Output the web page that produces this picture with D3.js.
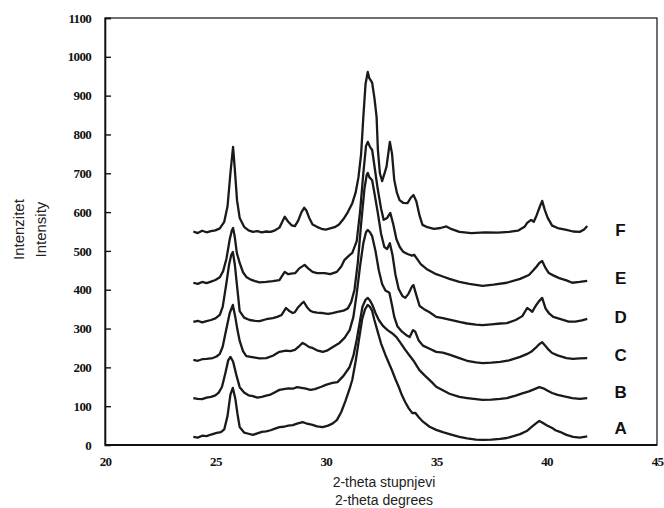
<!DOCTYPE html>
<html>
<head>
<meta charset="utf-8">
<script src="https://cdn.jsdelivr.net/npm/d3@7"></script>
<style>
  body { margin: 0; background: #fff; }
  svg { display: block; }
</style>
</head>
<body>
<svg id="chart" width="664" height="508"></svg>
<script>
// x ticks / y ticks
var xTicks = [20, 25, 30, 35, 40, 45];
var yTicks = [0, 100, 200, 300, 400, 500, 600, 700, 800, 900, 1000, 1100];
var seriesNames = ["A", "B", "C", "D", "E", "F"];
var labelLevels = [44, 137, 232, 330, 430, 554];

// traces: [2-theta, intensity]
var traceA = [[24.0,21],[24.2,19],[24.4,24],[24.6,23],[24.8,27],[25.06,31],[25.25,33],[25.4,40],[25.55,75],[25.68,130],[25.79,147],[25.9,120],[26.0,80],[26.1,46],[26.3,32],[26.5,29],[26.7,26],[26.9,30],[27.1,34],[27.3,35],[27.5,38],[27.7,42],[27.9,46],[28.1,47],[28.3,50],[28.5,51],[28.7,55],[28.95,59],[29.1,56],[29.25,54],[29.4,52],[29.6,48],[29.86,46],[30.1,50],[30.3,55],[30.5,64],[30.7,85],[30.9,115],[31.08,145],[31.2,168],[31.35,215],[31.5,271],[31.65,325],[31.78,350],[31.9,361],[32.0,356],[32.1,345],[32.2,322],[32.35,292],[32.5,262],[32.7,232],[32.85,212],[33.0,192],[33.15,170],[33.3,150],[33.45,128],[33.6,110],[33.75,95],[33.92,82],[34.05,83],[34.2,72],[34.4,60],[34.7,47],[35.0,39],[35.3,33],[35.6,28],[36.05,21],[36.4,17],[36.8,14],[37.1,13],[37.5,14],[37.9,16],[38.2,18],[38.5,23],[38.8,28],[39.1,36],[39.35,48],[39.55,57],[39.67,62],[39.8,58],[40.0,51],[40.25,44],[40.4,38],[40.6,34],[40.9,26],[41.2,21],[41.5,19],[41.84,22]];

var traceB = [[24.0,121],[24.2,119],[24.4,118],[24.6,122],[24.8,124],[25.0,128],[25.15,135],[25.3,150],[25.45,185],[25.58,218],[25.68,227],[25.8,215],[25.95,180],[26.1,149],[26.3,135],[26.5,128],[26.7,126],[26.9,122],[27.1,124],[27.3,127],[27.5,130],[27.7,136],[27.9,142],[28.1,144],[28.3,146],[28.5,145],[28.7,149],[28.9,147],[29.1,145],[29.3,142],[29.5,144],[29.8,150],[30.0,155],[30.3,160],[30.53,162],[30.8,178],[31.08,201],[31.25,230],[31.4,271],[31.55,320],[31.66,356],[31.8,374],[31.9,379],[32.0,372],[32.1,362],[32.25,340],[32.4,322],[32.6,306],[32.8,296],[33.0,288],[33.2,278],[33.4,262],[33.6,245],[33.8,230],[34.0,215],[34.24,193],[34.5,178],[34.8,162],[35.0,150],[35.3,141],[35.6,132],[36.05,124],[36.4,121],[36.8,118],[37.1,116],[37.5,117],[37.9,119],[38.2,121],[38.6,127],[38.9,133],[39.2,138],[39.45,144],[39.67,149],[39.85,146],[40.05,140],[40.25,134],[40.5,129],[40.8,125],[41.16,121],[41.5,119],[41.84,121]];

var traceC = [[24.0,219],[24.2,217],[24.4,221],[24.6,222],[24.88,224],[25.05,228],[25.2,235],[25.33,253],[25.5,300],[25.65,340],[25.79,361],[25.9,330],[26.0,296],[26.1,268],[26.25,242],[26.4,229],[26.6,227],[26.8,225],[27.0,223],[27.3,224],[27.6,230],[27.9,240],[28.2,243],[28.4,242],[28.6,245],[28.8,255],[28.95,263],[29.1,258],[29.25,252],[29.4,250],[29.6,244],[29.86,240],[30.05,243],[30.3,252],[30.62,263],[30.85,276],[31.08,296],[31.25,330],[31.4,390],[31.55,460],[31.7,520],[31.82,548],[31.9,554],[32.0,548],[32.1,538],[32.25,500],[32.4,450],[32.55,415],[32.7,398],[32.88,392],[33.0,360],[33.1,330],[33.25,305],[33.45,292],[33.65,283],[33.8,278],[33.95,296],[34.05,292],[34.2,270],[34.4,256],[34.7,248],[35.0,240],[35.3,238],[35.6,233],[36.05,224],[36.4,217],[36.8,213],[37.1,211],[37.5,212],[37.9,214],[38.3,218],[38.8,227],[39.1,234],[39.3,240],[39.5,250],[39.65,259],[39.8,265],[39.95,255],[40.1,245],[40.25,237],[40.5,231],[40.9,224],[41.2,222],[41.5,223],[41.84,224]];

var traceD = [[24.0,317],[24.2,320],[24.4,316],[24.6,319],[24.8,322],[25.0,326],[25.2,335],[25.33,356],[25.48,410],[25.62,465],[25.72,490],[25.79,497],[25.88,465],[25.97,415],[26.1,345],[26.3,328],[26.55,322],[26.8,320],[27.0,319],[27.3,324],[27.6,327],[27.8,330],[28.0,335],[28.2,353],[28.35,345],[28.5,340],[28.6,342],[28.75,355],[28.9,364],[29.0,369],[29.15,355],[29.3,346],[29.4,343],[29.6,341],[29.86,340],[30.1,338],[30.3,340],[30.53,343],[30.8,346],[31.0,352],[31.15,368],[31.3,400],[31.45,470],[31.6,570],[31.75,660],[31.85,695],[31.9,701],[31.97,690],[32.1,682],[32.2,650],[32.35,600],[32.5,545],[32.65,510],[32.78,505],[32.9,520],[33.02,490],[33.15,440],[33.3,402],[33.47,384],[33.6,379],[33.75,390],[33.9,408],[33.97,412],[34.1,386],[34.25,358],[34.45,350],[34.7,342],[35.0,330],[35.3,327],[35.6,323],[36.05,317],[36.4,313],[36.8,310],[37.1,309],[37.5,311],[37.9,313],[38.2,314],[38.6,322],[38.9,332],[39.12,353],[39.25,348],[39.35,343],[39.5,358],[39.65,370],[39.8,379],[39.95,352],[40.1,340],[40.3,330],[40.6,325],[41.0,318],[41.3,318],[41.6,321],[41.84,325]];

var traceE = [[24.0,418],[24.2,415],[24.4,420],[24.6,417],[24.8,421],[25.0,425],[25.2,432],[25.35,448],[25.5,480],[25.65,530],[25.74,552],[25.8,559],[25.88,535],[25.97,495],[26.1,469],[26.25,445],[26.4,433],[26.6,426],[26.8,422],[27.0,419],[27.3,420],[27.6,422],[27.9,425],[28.05,438],[28.14,446],[28.3,440],[28.5,442],[28.62,443],[28.8,455],[29.04,464],[29.2,455],[29.4,446],[29.6,443],[29.95,443],[30.2,440],[30.5,446],[30.7,460],[30.85,477],[31.05,488],[31.2,495],[31.4,525],[31.55,600],[31.7,700],[31.82,770],[31.9,781],[32.0,768],[32.1,760],[32.2,720],[32.35,660],[32.5,610],[32.62,580],[32.78,585],[32.92,598],[33.05,570],[33.2,530],[33.35,510],[33.5,498],[33.7,492],[33.9,488],[34.0,490],[34.15,478],[34.3,466],[34.6,452],[35.0,440],[35.3,434],[35.6,428],[36.05,420],[36.5,415],[37.1,410],[37.6,413],[38.2,418],[38.8,428],[39.2,438],[39.4,450],[39.55,460],[39.67,469],[39.8,474],[39.95,456],[40.1,443],[40.3,437],[40.57,430],[40.9,424],[41.16,418],[41.5,420],[41.84,423]];

var traceF = [[24.0,550],[24.2,546],[24.4,552],[24.6,548],[24.8,551],[25.0,553],[25.2,558],[25.4,575],[25.55,615],[25.68,700],[25.8,768],[25.88,710],[25.98,630],[26.1,585],[26.3,562],[26.5,553],[26.7,549],[26.9,551],[27.1,548],[27.3,550],[27.5,549],[27.7,553],[27.9,560],[28.03,575],[28.14,588],[28.3,575],[28.45,566],[28.6,564],[28.75,578],[28.9,600],[29.02,611],[29.12,604],[29.25,585],[29.4,568],[29.6,562],[29.8,557],[30.0,555],[30.2,558],[30.4,561],[30.6,568],[30.8,582],[31.0,600],[31.2,623],[31.35,650],[31.48,690],[31.6,750],[31.7,845],[31.8,930],[31.9,961],[31.97,945],[32.05,938],[32.1,933],[32.2,895],[32.3,845],[32.36,760],[32.45,700],[32.55,680],[32.65,698],[32.75,717],[32.9,781],[33.0,750],[33.1,683],[33.22,650],[33.34,631],[33.5,624],[33.7,623],[33.85,637],[33.97,644],[34.1,628],[34.25,590],[34.38,567],[34.6,561],[34.9,557],[35.2,559],[35.46,563],[35.7,556],[36.05,549],[36.6,546],[37.2,548],[37.8,547],[38.3,549],[38.7,552],[39.0,562],[39.12,572],[39.3,580],[39.42,575],[39.55,592],[39.7,615],[39.8,629],[39.92,605],[40.05,585],[40.25,565],[40.5,559],[40.9,554],[41.2,550],[41.5,549],[41.7,555],[41.84,564]];

var traces = [traceA, traceB, traceC, traceD, traceE, traceF];

var margin = {top: 18, right: 7, bottom: 63, left: 105},
    width = 664 - margin.left - margin.right,
    height = 508 - margin.top - margin.bottom;

var x = d3.scaleLinear().domain([20, 45]).range([0, width]);
var y = d3.scaleLinear().domain([0, 1100]).range([height, 0]);

var svg = d3.select("#chart")
  .append("g")
    .attr("transform", "translate(" + margin.left + "," + margin.top + ")");

// frame
svg.append("rect")
  .attr("x", 0).attr("y", 0)
  .attr("width", width).attr("height", height)
  .style("fill", "none")
  .style("stroke", "#222")
  .style("stroke-width", 1.3);

svg.append("line")
  .attr("x1", 0).attr("x2", width)
  .attr("y1", height).attr("y2", height)
  .style("stroke", "#111")
  .style("stroke-width", 2.2);

var tickFont = "'Liberation Serif', 'Times New Roman', serif";

var yAxis = d3.axisLeft(y)
  .tickValues(yTicks)
  .tickFormat(d3.format("d"))
  .tickSize(-6)
  .tickPadding(14);

var gy = svg.append("g").attr("class", "y axis").call(yAxis)
  .attr("font-family", tickFont);
gy.select(".domain").style("stroke", "#111").style("stroke-width", 1.6);
gy.selectAll(".tick line").style("stroke", "#111").style("stroke-width", 1.4);
gy.selectAll(".tick text")
  .style("font-family", tickFont)
  .style("font-weight", "bold")
  .style("font-size", "13px")
  .style("letter-spacing", "-0.7px")
  .style("fill", "#111");
gy.selectAll(".tick").filter(function(d) { return d === 0; }).select("line").remove();

var xAxis = d3.axisBottom(x)
  .tickValues(xTicks)
  .tickFormat(d3.format("d"))
  .tickSize(0)
  .tickPadding(12);

var gx = svg.append("g")
  .attr("class", "x axis")
  .attr("transform", "translate(0," + height + ")")
  .call(xAxis)
  .attr("font-family", tickFont);
gx.select(".domain").remove();
gx.selectAll(".tick text")
  .style("font-family", tickFont)
  .style("font-weight", "bold")
  .style("font-size", "13px")
  .style("letter-spacing", "-0.7px")
  .style("fill", "#111");

// traces
var line = d3.line()
  .x(function(d) { return x(d[0]); })
  .y(function(d) { return y(d[1]); })
  .curve(d3.curveLinear);

svg.selectAll("path.trace")
  .data(traces)
  .enter().append("path")
    .attr("class", "trace")
    .attr("d", line)
    .style("fill", "none")
    .style("stroke", "#1a1a1a")
    .style("stroke-width", 2.3)
    .style("stroke-linejoin", "round");

// series letters
svg.selectAll("text.series")
  .data(seriesNames)
  .enter().append("text")
    .attr("class", "series")
    .attr("x", x(43.35))
    .attr("y", function(d, i) { return y(labelLevels[i]); })
    .attr("dy", "0.36em")
    .attr("text-anchor", "middle")
    .text(function(d) { return d; })
    .style("font-family", "'Liberation Sans', Arial, sans-serif")
    .style("font-weight", "bold")
    .style("font-size", "17px")
    .style("fill", "#111");

// axis titles
var xTitle = svg.append("text")
  .attr("x", x(32.5) + 3)
  .attr("text-anchor", "middle")
  .style("font-family", "'Liberation Sans', Arial, sans-serif")
  .style("font-size", "14px")
  .style("fill", "#222");
xTitle.append("tspan").attr("x", x(32.5) + 3).attr("y", height + 42).text("2-theta stupnjevi");
xTitle.append("tspan").attr("x", x(32.5) + 3).attr("y", height + 60).text("2-theta degrees");

var yTitle = svg.append("text")
  .attr("transform", "translate(" + (-81) + "," + y(555) + ") rotate(-90)")
  .attr("text-anchor", "middle")
  .style("font-family", "'Liberation Sans', Arial, sans-serif")
  .style("font-size", "15px")
  .style("fill", "#222");
yTitle.append("tspan").attr("x", 0).attr("y", 0).text("Intenzitet");
yTitle.append("tspan").attr("x", 0).attr("y", 22).text("Intensity");
</script>
</body>
</html>
